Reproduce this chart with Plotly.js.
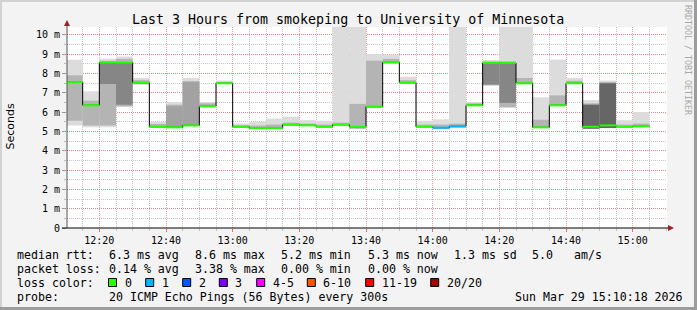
<!DOCTYPE html>
<html><head><meta charset="utf-8">
<script src="https://cdn.plot.ly/plotly-3.0.1.min.js"></script>
<style>html,body{margin:0;padding:0;background:#f3f3f3}</style>
</head><body><div id="chart" style="width:697px;height:310px"></div>
<script>
// ---- data (milliseconds), 5-minute bins labelled by their end time ----
const binEnd = ['12:15','12:20','12:25','12:30','12:35','12:40','12:45','12:50','12:55','13:00',
  '13:05','13:10','13:15','13:20','13:25','13:30','13:35','13:40','13:45','13:50',
  '13:55','14:00','14:05','14:10','14:15','14:20','14:25','14:30','14:35','14:40',
  '14:45','14:50','14:55','15:00','15:05'];
const rttMedian = [7.55,6.35,8.56,8.56,7.52,5.24,5.21,5.31,6.30,7.49,
  5.24,5.17,5.17,5.35,5.31,5.24,5.35,5.24,6.28,8.57,
  7.52,5.24,5.19,5.26,6.35,8.54,8.54,7.49,5.21,6.35,
  7.49,5.24,5.31,5.24,5.27];
const smokeMin = [5.30,5.21,5.21,6.26,7.40,5.18,5.15,5.25,6.25,7.45,
  5.19,5.13,5.13,5.28,5.27,5.20,5.28,5.12,6.20,8.50,
  7.45,5.20,5.13,5.18,6.30,7.35,6.22,7.42,5.15,6.30,
  7.45,5.12,5.18,5.20,5.20];
const smokeMax = [8.71,7.07,8.76,8.88,7.76,5.49,6.52,7.76,6.52,7.63,
  5.41,5.49,5.66,5.76,5.58,5.55,12.0,12.0,9.00,8.97,
  7.83,5.55,5.62,12.0,6.52,8.69,12.0,12.0,6.76,8.71,
  7.76,6.62,7.63,5.58,6.00];
const bandLo = [5.55,5.30,5.30,6.30,7.45,5.21,5.18,5.28,6.28,7.47,
  5.21,5.15,5.15,5.30,5.29,5.22,5.30,5.14,6.23,8.53,
  7.48,5.22,5.15,5.20,6.32,7.40,6.25,7.45,5.18,6.32,
  7.47,5.13,5.19,5.21,5.22];
const bandHi = [7.90,6.59,8.65,8.75,7.65,5.38,6.38,7.60,6.45,7.56,
  5.32,5.30,5.35,5.45,5.40,5.35,5.45,6.42,8.66,8.75,
  7.65,5.35,5.35,5.40,6.45,8.62,8.62,7.76,5.60,6.86,
  7.62,6.45,7.55,5.35,5.40];
const coreLo = [null,null,7.45,6.38,null,null,5.20,5.30,null,null,
  null,null,null,null,null,null,null,null,null,null,
  null,null,null,null,null,7.42,6.47,null,null,null,
  null,5.14,5.17,null,null];
const coreHi = [null,null,8.56,8.56,null,null,6.30,7.55,null,null,
  null,null,null,null,null,null,null,null,null,null,
  null,null,null,null,null,8.54,8.54,null,null,null,
  null,6.38,7.49,null,null];
const coreDensity = [0,0,2,2,0,0,1,1,0,0, 0,0,0,0,0,0,0,0,0,0, 0,0,0,0,0,2,2,0,0,0, 0,3,3,0,0];
const lossClass = [0,0,0,0,0,0,0,0,0,0, 0,0,0,0,0,0,0,0,0,0, 0,0,1,1,0,0,0,0,0,0, 0,0,0,0,0];
const lossLabels = ['0','1','2','3','4-5','6-10','11-19','20/20'];
const lossColors = ['#26ff00','#00b8ff','#0059ff','#7e00ff','#ff00ff','#ff5500','#ff0000','#a10000'];
const yTickVals = [0,1,2,3,4,5,6,7,8,9,10];
const yTickText = ['0','1 m','2 m','3 m','4 m','5 m','6 m','7 m','8 m','9 m','10 m'];

// ---- helpers ----
const DAY = '2026-03-29';
const STEP = 5;
function hm(l){const p=l.split(':').map(Number);return p[0]*60+p[1];}
function stamp(mins){const t=Math.round(mins*60);const h=Math.floor(t/3600),m=Math.floor(t%3600/60),s=t%60;
  return DAY+' '+String(h).padStart(2,'0')+':'+String(m).padStart(2,'0')+':'+String(s).padStart(2,'0');}
const centers = binEnd.map(l=>stamp(hm(l)-STEP/2));
const starts = binEnd.map(l=>stamp(hm(l)-STEP));
const ends = binEnd.map(l=>stamp(hm(l)));
const W = STEP*60000;

function band(lo,hi,color){
  return {type:'bar',x:centers,base:lo,y:lo.map((v,i)=>v==null?null:hi[i]-v),width:W,
    marker:{color:color,line:{width:0}},hoverinfo:'skip',showlegend:false};
}
const traces = [band(smokeMin,smokeMax,'#dcdcdc'), band(bandLo,bandHi,'#b4b4b4')];
const coreShades = {1:'#a2a2a2',2:'#868686',3:'#666666'};
[1,2,3].forEach(k=>{
  const lo = coreLo.map((v,i)=>coreDensity[i]===k?v:null);
  traces.push(band(lo,coreHi,coreShades[k]));
});
// black step line
traces.push({type:'scatter',mode:'lines',x:starts.concat([ends[ends.length-1]]),
  y:rttMedian.concat([rttMedian[rttMedian.length-1]]),line:{shape:'hv',color:'#000',width:1},
  hoverinfo:'skip',showlegend:false});
// coloured median segments by loss
lossColors.forEach((c,k)=>{
  const xs=[],ys=[];
  rttMedian.forEach((m,i)=>{if(lossClass[i]===k){xs.push(starts[i],ends[i],null);ys.push(m,m,null);}});
  if(xs.length) traces.push({type:'scatter',mode:'lines',x:xs,y:ys,line:{color:c,width:2},
    connectgaps:false,hoverinfo:'skip',showlegend:false});
});

// ---- pixel helpers for decorations ----
const L=67,R=667,T=27,B=228;
const px=x=>(x-L)/(R-L), py=y=>(B-y)/(B-T);
const MONO='DejaVu Sans Mono';
const anns=[];
function txt(s,x,y,size,extra){anns.push(Object.assign({text:s,x:px(x),y:py(y),xref:'paper',yref:'paper',
  xanchor:'left',yanchor:'middle',showarrow:false,font:{family:MONO,size:size||11.6,color:'#000'}},extra||{}));}
txt('Last 3 Hours from smokeping to University of Minnesota',348,19.5,13.3,{xanchor:'center'});
txt('Seconds',10.5,127,11,{xanchor:'center',textangle:-90,font:{family:'DejaVu Sans',size:11,color:'#000'}});
txt('RRDTOOL / TOBI OETIKER',688,60,8.3,{xanchor:'center',textangle:90,font:{family:MONO,size:8.3,color:'#a8a8a8'}});
const r1=254.5,r2=268.5,r3=282.5,r4=296.5;
txt('median rtt:',15,r1);
[['6.3 ms avg',107],['8.6 ms max',193],['5.2 ms min',279],['5.3 ms now',365.5],['1.3 ms sd',451.5],['5.0',529.5],['am/s',572]].forEach(a=>txt(a[0],a[1],r1));
txt('packet loss:',15,r2);
[['0.14 % avg',107],['3.38 % max',193],['0.00 % min',279],['0.00 % now',365.5]].forEach(a=>txt(a[0],a[1],r2));
txt('loss color:',15,r3);
const boxX=[108.5,145.7,182.7,219.3,256.7,307.3,365.7,430.7];
const shapes=[];
lossLabels.forEach((lab,k)=>{
  shapes.push({type:'rect',xref:'paper',yref:'paper',x0:px(boxX[k]),x1:px(boxX[k]+8),y0:py(278.5),y1:py(286.5),
    fillcolor:lossColors[k],line:{color:'#000',width:1}});
  txt(lab,boxX[k]+14,r3);
});
txt('probe:',15,r4);
txt('20 ICMP Echo Pings (56 Bytes) every 300s',107,r4);
txt('Sun Mar 29 15:10:18 2026',513,r4);

// axis extensions and arrows
shapes.push({type:'line',xref:'paper',yref:'paper',x0:px(67),x1:px(67),y0:py(228),y1:py(23),line:{color:'#555',width:1}});
shapes.push({type:'line',xref:'paper',yref:'paper',x0:px(62),x1:px(670),y0:py(228),y1:py(228),line:{color:'#000',width:1}});
shapes.push({type:'path',xref:'paper',yref:'paper',path:`M ${px(64)} ${py(26)} L ${px(70)} ${py(26)} L ${px(67)} ${py(20)} Z`,fillcolor:'#9b2020',line:{width:0}});
shapes.push({type:'path',xref:'paper',yref:'paper',path:`M ${px(668)} ${py(225)} L ${px(668)} ${py(231)} L ${px(674)} ${py(228)} Z`,fillcolor:'#9b2020',line:{width:0}});
// frame
shapes.push({type:'rect',xref:'paper',yref:'paper',x0:px(0),x1:px(697),y0:py(0),y1:py(2),fillcolor:'#d2d2d2',line:{width:0}});
shapes.push({type:'rect',xref:'paper',yref:'paper',x0:px(0),x1:px(2),y0:py(0),y1:py(310),fillcolor:'#d2d2d2',line:{width:0}});
shapes.push({type:'rect',xref:'paper',yref:'paper',x0:px(694),x1:px(697),y0:py(0),y1:py(310),fillcolor:'#9c9c9c',line:{width:0}});
shapes.push({type:'rect',xref:'paper',yref:'paper',x0:px(0),x1:px(697),y0:py(307),y1:py(310),fillcolor:'#9c9c9c',line:{width:0}});

const layout={width:697,height:310,margin:{l:L,r:697-R,t:T,b:310-B,pad:0},
  paper_bgcolor:'#f3f3f3',plot_bgcolor:'#ffffff',barmode:'overlay',showlegend:false,
  font:{family:MONO,size:10,color:'#000'},
  xaxis:{type:'date',range:[DAY+' 12:10:18',DAY+' 15:10:18'],tick0:DAY+' 12:00:00',dtick:1200000,
    tickformat:'%H:%M',showgrid:true,gridcolor:'rgba(235,110,110,0.7)',griddash:'1px,1px',gridwidth:1,
    ticks:'outside',ticklen:3,tickcolor:'#e07070',showline:false,zeroline:false,layer:'above traces',
    tickfont:{family:MONO,size:10,color:'#000'},fixedrange:true,
    minor:{dtick:300000,tick0:DAY+' 12:00:00',showgrid:true,gridcolor:'#c4c4c4',griddash:'1px,1px',ticks:'outside',ticklen:2,tickcolor:'#c0c0c0'}},
  yaxis:{range:[0,10.4],tickvals:yTickVals,ticktext:yTickText,showgrid:true,gridcolor:'rgba(235,110,110,0.7)',
    griddash:'1px,1px',ticks:'outside',ticklen:4,tickcolor:'#999',showline:false,zeroline:false,layer:'above traces',
    tickfont:{family:MONO,size:10,color:'#000'},fixedrange:true,
    minor:{dtick:0.5,showgrid:true,gridcolor:'#c4c4c4',griddash:'1px,1px',ticks:'outside',ticklen:2,tickcolor:'#bbb'}},
  annotations:anns,shapes:shapes};
Plotly.newPlot('chart',traces,layout,{staticPlot:true,displayModeBar:false});
</script></body></html>
